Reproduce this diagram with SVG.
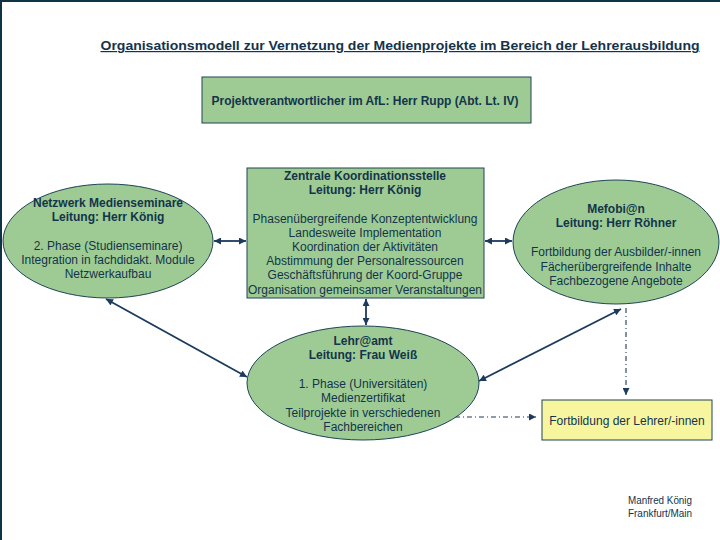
<svg xmlns="http://www.w3.org/2000/svg" width="720" height="540" viewBox="0 0 720 540">
<defs>
<style>
text{font-family:"Liberation Sans",Arial,sans-serif;fill:#13344c;text-anchor:middle;font-size:12px}
.b{font-weight:bold}
.s{text-anchor:start;font-size:10px}
.g{fill:#9ecb93;stroke:#1e4456;stroke-width:1}
.y{fill:#f8f59f;stroke:#1e4456;stroke-width:1}
.c{stroke:#1b3a5c;stroke-width:1.8;fill:none}
.d{stroke:#1b3a5c;stroke-width:1.1;fill:none;stroke-dasharray:5 3 1 3}
</style>
<marker id="ah" viewBox="0 0 10 10" refX="10" refY="5" markerWidth="8" markerHeight="7" markerUnits="userSpaceOnUse" orient="auto-start-reverse">
<path d="M0,0 L10,5 L0,10 z" fill="#1b3a5c"/>
</marker>
</defs>
<rect x="0" y="0" width="720" height="540" fill="#ffffff"/>
<path d="M1,540 V1 H720" fill="none" stroke="#0f3346" stroke-width="2"/>
<text class="b" x="400" y="50" font-size="15" textLength="599" lengthAdjust="spacingAndGlyphs" text-decoration="underline">Organisationsmodell zur Vernetzung der Medienprojekte im Bereich der Lehrerausbildung</text>
<g id="connectors">
<line class="c" x1="214" y1="241" x2="246" y2="241" marker-start="url(#ah)" marker-end="url(#ah)"/>
<line class="c" x1="485" y1="241" x2="512" y2="241" marker-start="url(#ah)" marker-end="url(#ah)"/>
<line class="c" x1="366" y1="299" x2="366" y2="325" marker-start="url(#ah)" marker-end="url(#ah)"/>
<line class="c" x1="106" y1="299" x2="247" y2="377" marker-start="url(#ah)" marker-end="url(#ah)"/>
<line class="c" x1="479" y1="381" x2="621" y2="309" marker-start="url(#ah)" marker-end="url(#ah)"/>
<line class="d" x1="626" y1="308" x2="626" y2="395" marker-end="url(#ah)"/>
<line class="d" x1="455" y1="417" x2="536" y2="417" marker-end="url(#ah)"/>
</g>
<g id="projektverantwortlicher">
<rect class="g" x="202" y="77" width="329" height="46"/>
<text class="b" x="365" y="105" textLength="307" lengthAdjust="spacingAndGlyphs">Projektverantwortlicher im AfL: Herr Rupp (Abt. Lt. IV)</text>
</g>
<g id="zentrale">
<rect class="g" x="247" y="168" width="237" height="130"/>
<text class="b" x="365" y="180">Zentrale Koordinationsstelle</text>
<text class="b" x="365" y="194">Leitung: Herr König</text>
<text x="365" y="223">Phasenübergreifende Konzeptentwicklung</text>
<text x="365" y="237">Landesweite Implementation</text>
<text x="365" y="251">Koordination der Aktivitäten</text>
<text x="365" y="265">Abstimmung der Personalressourcen</text>
<text x="365" y="279">Geschäftsführung der Koord-Gruppe</text>
<text x="365" y="294" textLength="234" lengthAdjust="spacingAndGlyphs">Organisation gemeinsamer Veranstaltungen</text>
</g>
<g id="netzwerk">
<ellipse class="g" cx="108" cy="241" rx="105" ry="57"/>
<text class="b" x="108" y="207">Netzwerk Medienseminare</text>
<text class="b" x="108" y="221">Leitung: Herr König</text>
<text x="108" y="250">2. Phase (Studienseminare)</text>
<text x="108" y="264">Integration in fachdidakt. Module</text>
<text x="108" y="278">Netzwerkaufbau</text>
</g>
<g id="mefobian">
<ellipse class="g" cx="616" cy="242" rx="103" ry="62"/>
<text class="b" x="616" y="213">Mefobi@n</text>
<text class="b" x="616" y="227">Leitung: Herr Röhner</text>
<text x="616" y="256">Fortbildung der Ausbilder/-innen</text>
<text x="616" y="271">Fächerübergreifende Inhalte</text>
<text x="616" y="285">Fachbezogene Angebote</text>
</g>
<g id="lehramt">
<ellipse class="g" cx="363" cy="383" rx="116" ry="57"/>
<text class="b" x="363" y="345">Lehr@amt</text>
<text class="b" x="363" y="359">Leitung: Frau Weiß</text>
<text x="363" y="388">1. Phase (Universitäten)</text>
<text x="363" y="402">Medienzertifikat</text>
<text x="363" y="417">Teilprojekte in verschiedenen</text>
<text x="363" y="431">Fachbereichen</text>
</g>
<g id="fortbildung">
<rect class="y" x="542" y="400" width="170" height="40"/>
<text x="627" y="425">Fortbildung der Lehrer/-innen</text>
</g>
<g id="autor">
<text class="s" x="628" y="504" textLength="64" lengthAdjust="spacingAndGlyphs">Manfred König</text>
<text class="s" x="628" y="517" textLength="64" lengthAdjust="spacingAndGlyphs">Frankfurt/Main</text>
</g>
</svg>
